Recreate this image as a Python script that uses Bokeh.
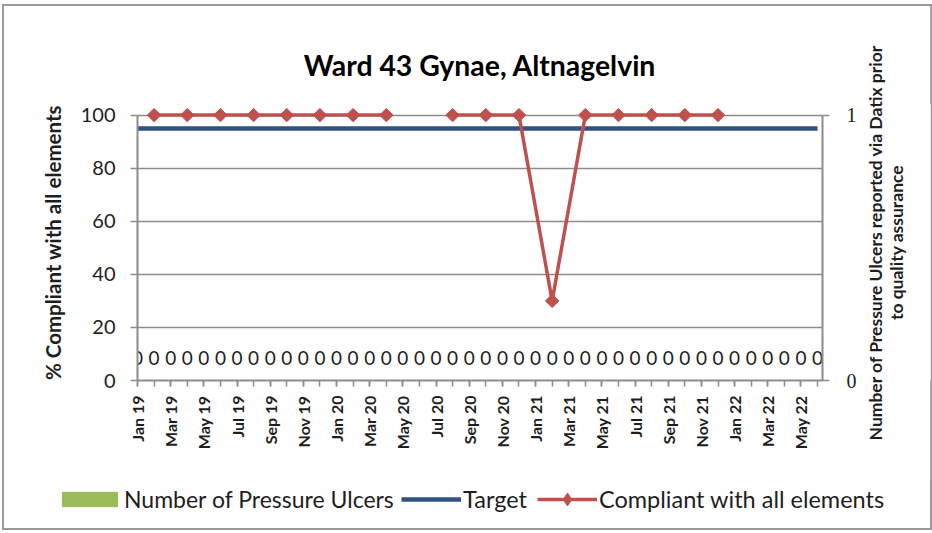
import math
from bokeh.plotting import figure
from bokeh.layouts import column, row
from bokeh.models import Range1d, LinearAxis, FixedTicker, Legend, LegendItem, ColumnDataSource
from bokeh.core.properties import value
from bokeh.embed import file_html
from bokeh.resources import INLINE

# ---------------- data ----------------
months = ["Jan 19", "Feb 19", "Mar 19", "Apr 19", "May 19", "Jun 19", "Jul 19", "Aug 19",
          "Sep 19", "Oct 19", "Nov 19", "Dec 19", "Jan 20", "Feb 20", "Mar 20", "Apr 20",
          "May 20", "Jun 20", "Jul 20", "Aug 20", "Sep 20", "Oct 20", "Nov 20", "Dec 20",
          "Jan 21", "Feb 21", "Mar 21", "Apr 21", "May 21", "Jun 21", "Jul 21", "Aug 21",
          "Sep 21", "Oct 21", "Nov 21", "Dec 21", "Jan 22", "Feb 22", "Mar 22", "Apr 22",
          "May 22", "Jun 22"]
tick_labels = ["Jan 19", "Mar 19", "May 19", "Jul 19", "Sep 19", "Nov 19", "Jan 20", "Mar 20",
               "May 20", "Jul 20", "Sep 20", "Nov 20", "Jan 21", "Mar 21", "May 21", "Jul 21",
               "Sep 21", "Nov 21", "Jan 22", "Mar 22", "May 22"]
pressure_ulcers = [0, 0, 0, 0, 0, 0, 0, 0, 0, 0, 0, 0, 0, 0, 0, 0, 0, 0, 0, 0, 0,
                   0, 0, 0, 0, 0, 0, 0, 0, 0, 0, 0, 0, 0, 0, 0, 0, 0, 0, 0, 0, 0]
target = [95, 95, 95, 95, 95, 95, 95, 95, 95, 95, 95, 95, 95, 95, 95, 95, 95, 95, 95, 95, 95,
          95, 95, 95, 95, 95, 95, 95, 95, 95, 95, 95, 95, 95, 95, 95, 95, 95, 95, 95, 95, 95]
comp_months = ["Feb 19", "Apr 19", "Jun 19", "Aug 19", "Oct 19", "Dec 19", "Feb 20", "Apr 20",
               "Jun 20", "Aug 20", "Oct 20", "Dec 20", "Feb 21", "Apr 21", "Jun 21", "Aug 21",
               "Oct 21", "Dec 21"]
comp_values = [100, 100, 100, 100, 100, 100, 100, 100,
               None, 100, 100, 100, 30, 100, 100, 100, 100, 100]
left_ticks = [0, 20, 40, 60, 80, 100]
right_ticks = [0, 1]

# ---------------- build ----------------
FONT = "Lato"
GRAY = "#8c8c8c"
TXT = "#1e1e1e"
GREEN = "#9BBB59"
BLUE = "#2F5283"
RED = "#C0504D"
NAN = float("nan")

idx = list(range(len(months)))
comp_x = [months.index(m) for m in comp_months]
comp_y = [NAN if v is None else v for v in comp_values]

p = figure(frame_width=685, frame_height=276,
           x_range=Range1d(0, 41.3), y_range=Range1d(0, 104),
           output_backend="svg", toolbar_location=None,
           min_border_left=133, min_border_right=40,
           min_border_top=98, min_border_bottom=100)
p.background_fill_color = "white"
p.border_fill_color = "white"
p.outline_line_color = None

p.title.text = "Ward 43 Gynae, Altnagelvin"
p.title.align = "center"
p.title.text_font = FONT
p.title.text_font_size = "28.4px"
p.title.text_font_style = "bold"
p.title.text_color = "#000000"
p.title.standoff = 45

p.extra_y_ranges = {"count": Range1d(0, 1.04)}

# bars (all zero) + their labels
src_bar = ColumnDataSource(dict(x=idx, v=pressure_ulcers, lab=[str(v) for v in pressure_ulcers]))
bars = p.vbar(x="x", top="v", width=0.6, bottom=0, source=src_bar,
              y_range_name="count", fill_color=GREEN, line_color=GREEN)
p.text(x="x", y="v", text="lab", source=src_bar, y_range_name="count",
       text_align="center", text_baseline="middle", y_offset=-23,
       text_font=value(FONT), text_font_size="19px", text_color=TXT)

# target
tline = p.line(idx, target, line_color=BLUE, line_width=4.5)

# compliance
cline = p.line(comp_x, comp_y, line_color=RED, line_width=3.5)
cmark = p.scatter(comp_x, comp_y, marker="square", angle=math.pi / 4, size=9.5,
                  fill_color=RED, line_color=RED)

# axes
p.xgrid.visible = False
p.ygrid.grid_line_color = GRAY
p.ygrid.grid_line_width = 1.5
p.ygrid.ticker = FixedTicker(ticks=left_ticks)

xa = p.xaxis[0]
xa.ticker = FixedTicker(ticks=[months.index(t) for t in tick_labels], minor_ticks=idx)
xa.major_label_overrides = {months.index(t): t for t in tick_labels}
xa.major_label_orientation = math.pi / 2
xa.major_label_text_font = FONT
xa.major_label_text_font_style = "bold"
xa.major_label_text_font_size = "16px"
xa.major_label_text_color = TXT
xa.major_label_standoff = 9
xa.axis_line_color = GRAY
xa.axis_line_width = 2
xa.major_tick_line_color = GRAY
xa.minor_tick_line_color = GRAY
xa.major_tick_line_width = 1.5
xa.minor_tick_line_width = 1.5
xa.major_tick_out = 6
xa.major_tick_in = 0
xa.minor_tick_out = 6
xa.minor_tick_in = 0

ya = p.yaxis[0]
ya.ticker = FixedTicker(ticks=left_ticks)
ya.bounds = (0, 100)
ya.axis_label = "% Compliant with all elements"
ya.axis_label_text_font = FONT
ya.axis_label_text_font_style = "bold"
ya.axis_label_text_font_size = "20.5px"
ya.axis_label_text_color = TXT
ya.axis_label_standoff = 13
ya.major_label_text_font = FONT
ya.major_label_text_font_size = "20px"
ya.major_label_text_color = TXT
ya.major_label_standoff = 15
ya.axis_line_color = GRAY
ya.axis_line_width = 2
ya.major_tick_line_color = GRAY
ya.major_tick_line_width = 1.5
ya.major_tick_out = 7
ya.major_tick_in = 0
ya.minor_tick_line_color = None

ra = LinearAxis(y_range_name="count", ticker=FixedTicker(ticks=right_ticks), bounds=(0, 1))
ra.major_label_text_font = "Liberation Serif"
ra.major_label_text_font_size = "20px"
ra.major_label_text_color = TXT
ra.major_label_standoff = 17
ra.axis_line_color = GRAY
ra.axis_line_width = 2
ra.major_tick_line_color = GRAY
ra.major_tick_line_width = 1.5
ra.major_tick_out = 7
ra.major_tick_in = 0
ra.minor_tick_line_color = None
p.add_layout(ra, "right")

# ---------------- right-hand axis title (reads upward like the reference) ----------------
rf = figure(width=68, height=474, x_range=Range1d(0, 1), y_range=Range1d(0, 1),
            output_backend="svg", toolbar_location=None,
            min_border_left=60, min_border_right=0, min_border_top=98, min_border_bottom=100)
rf.xaxis.visible = False
rf.grid.visible = False
rf.outline_line_color = None
rf.background_fill_color = "white"
rf.border_fill_color = "white"
rya = rf.yaxis[0]
rya.ticker = FixedTicker(ticks=[])
rya.axis_line_color = None
rya.major_tick_line_color = None
rya.minor_tick_line_color = None
rya.axis_label = "Number of Pressure Ulcers reported via Datix prior\nto quality assurance"
rya.axis_label_text_font = FONT
rya.axis_label_text_font_style = "bold"
rya.axis_label_text_font_size = "17.5px"
rya.axis_label_text_line_height = 1.0
rya.axis_label_text_color = TXT
rya.axis_label_standoff = 24

# ---------------- legend strip ----------------
lf = figure(width=926, height=48, x_range=Range1d(0, 1), y_range=Range1d(0, 1),
            output_backend="svg", toolbar_location=None, min_border=0)
lf.axis.visible = False
lf.grid.visible = False
lf.outline_line_color = None
lf.background_fill_color = "white"
lf.border_fill_color = "white"
blank = ColumnDataSource(dict(x=[NAN], y=[NAN], top=[NAN]))
lg_bar = lf.vbar(x="x", top="top", width=0.5, source=blank, fill_color=GREEN, line_color=GREEN)
lg_t = lf.line(x="x", y="y", source=blank, line_color=BLUE, line_width=4.5)
lg_c = lf.line(x="x", y="y", source=blank, line_color=RED, line_width=3.5)
lg_m = lf.scatter(x="x", y="y", source=blank, marker="diamond", fill_color=RED, line_color=RED)


def mk_legend(items, loc, gw, gh, standoff=2, fs="23.5px"):
    lg = Legend(items=items, location=loc, orientation="horizontal",
                glyph_width=gw, glyph_height=gh, label_standoff=standoff, padding=0, margin=0,
                spacing=0, border_line_color=None, background_fill_alpha=0,
                label_text_font=FONT, label_text_font_size=fs, label_text_color=TXT,
                label_height=28)
    lf.add_layout(lg, "center")


mk_legend([LegendItem(label="Number of Pressure Ulcers", renderers=[lg_bar])], (51, 15), 69, 18, -4, "23px")
mk_legend([LegendItem(label="Target", renderers=[lg_t])], (397, 15), 60, 20)
mk_legend([LegendItem(label="Compliant with all elements", renderers=[lg_c, lg_m])], (533, 13), 60, 32)

BORDER = "2px solid #999999"
top_part = row(p, rf, spacing=0,
               styles={"border": BORDER, "border-bottom": "none",
                       "margin-top": "4px", "margin-left": "2px"})
bottom_part = column(lf, spacing=0,
                     styles={"border": BORDER, "border-top": "none", "margin-left": "2px"})

open("out.html", "w").write(file_html([top_part, bottom_part], INLINE))
